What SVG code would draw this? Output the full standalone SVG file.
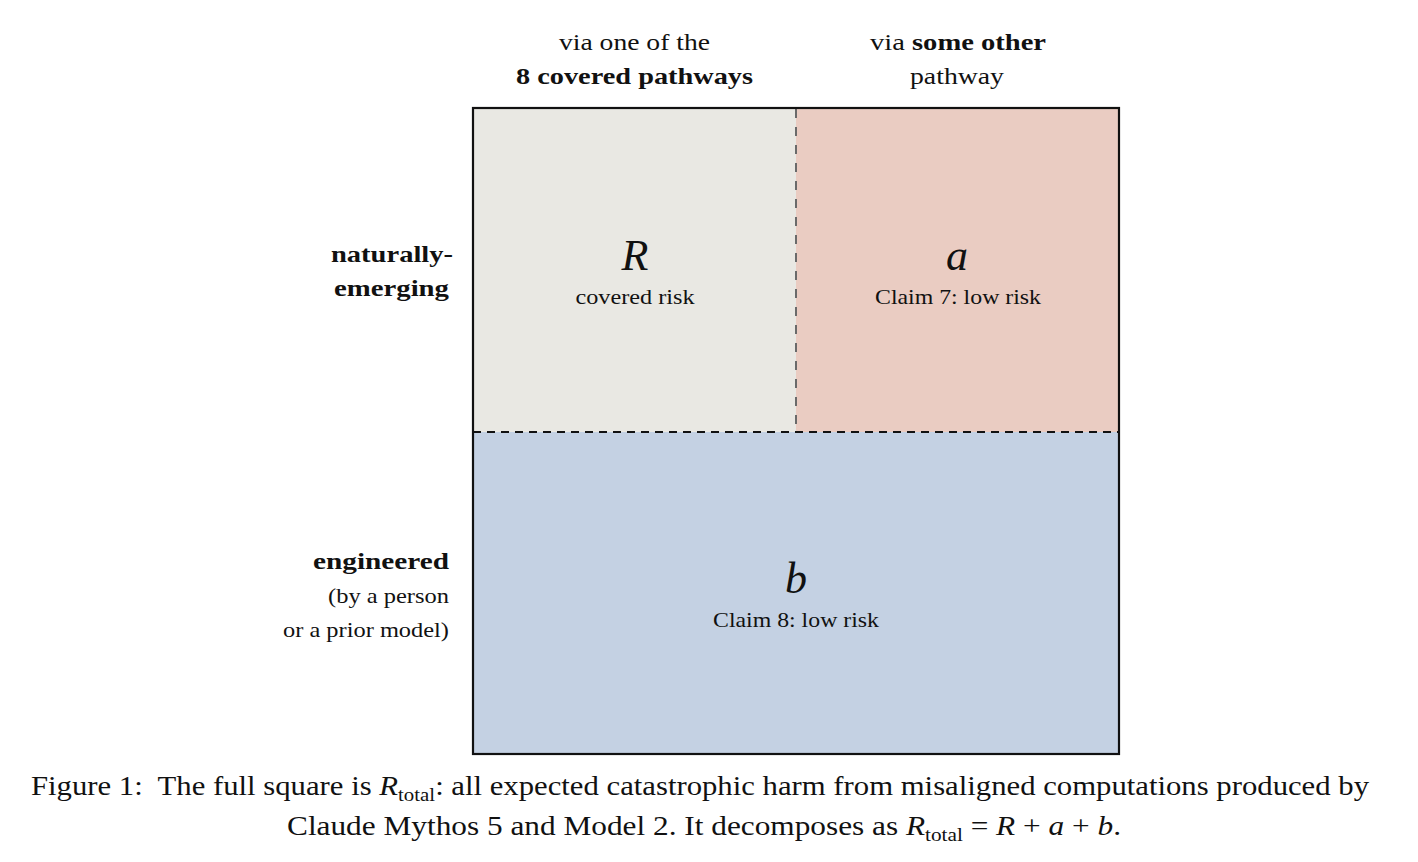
<svg xmlns="http://www.w3.org/2000/svg" width="1418" height="862" viewBox="0 0 1418 862">
<style>
text{font-family:"Liberation Serif","DejaVu Serif",serif;fill:#111}
.hd{font-size:24px;text-anchor:middle}
.lb{font-size:24px;text-anchor:end}
.sm{font-size:22px}
.b{font-weight:bold}
.m{font-size:44px;font-style:italic;text-anchor:middle}
.c{font-size:22px;text-anchor:middle}
.cap{font-size:28px;text-anchor:middle}
.i{font-style:italic}
.sub{font-size:19px}
</style>
<rect width="1418" height="862" fill="#fff"/>
<g id="cell-R"><rect x="473" y="108" width="323" height="324" fill="#e9e8e3"/>
<text class="m" x="635" y="270">R</text><text class="c" x="635" y="304" textLength="119" lengthAdjust="spacingAndGlyphs">covered risk</text></g>
<g id="cell-a"><rect x="796" y="108" width="323" height="324" fill="#eaccc2"/>
<text class="m" x="957" y="270">a</text><text class="c" x="958" y="304" textLength="166" lengthAdjust="spacingAndGlyphs">Claim 7: low risk</text></g>
<g id="cell-b"><rect x="473" y="432" width="646" height="322" fill="#c4d1e3"/>
<text class="m" x="796" y="593">b</text><text class="c" x="796" y="627" textLength="166" lengthAdjust="spacingAndGlyphs">Claim 8: low risk</text></g>
<g id="connectors">
<line x1="796" y1="109" x2="796" y2="431" stroke="#6a6a6a" stroke-width="2" stroke-dasharray="9 9"/>
<line x1="473" y1="432" x2="1119" y2="432" stroke="#111" stroke-width="2" stroke-dasharray="8 6"/>
</g>
<rect x="473" y="108" width="646" height="646" fill="none" stroke="#111" stroke-width="2.2"/>
<g id="headers">
<text class="hd" x="634.5" y="50" textLength="151" lengthAdjust="spacingAndGlyphs">via one of the</text>
<text class="hd b" x="634.5" y="84" textLength="237" lengthAdjust="spacingAndGlyphs">8 covered pathways</text>
<text class="hd" x="958" y="50" textLength="176" lengthAdjust="spacingAndGlyphs">via <tspan class="b">some other</tspan></text>
<text class="hd" x="957" y="84" textLength="94" lengthAdjust="spacingAndGlyphs">pathway</text>
</g>
<g id="row-labels">
<text class="lb b" x="453" y="262" textLength="122" lengthAdjust="spacingAndGlyphs">naturally-</text>
<text class="lb b" x="449" y="296" textLength="115" lengthAdjust="spacingAndGlyphs">emerging</text>
<text class="lb b" x="449" y="569" textLength="136" lengthAdjust="spacingAndGlyphs">engineered</text>
<text class="lb sm" x="449" y="603" textLength="121" lengthAdjust="spacingAndGlyphs">(by a person</text>
<text class="lb sm" x="449" y="637" textLength="166" lengthAdjust="spacingAndGlyphs">or a prior model)</text>
</g>
<g id="caption">
<text class="cap" x="700" y="795" textLength="1338" lengthAdjust="spacingAndGlyphs">Figure 1:&#160; The full square is <tspan class="i">R</tspan><tspan class="sub" dy="6">total</tspan><tspan dy="-6">: all expected catastrophic harm from misaligned computations produced by</tspan></text>
<text class="cap" x="704" y="835" textLength="834" lengthAdjust="spacingAndGlyphs">Claude Mythos 5 and Model 2. It decomposes as <tspan class="i">R</tspan><tspan class="sub" dy="6">total</tspan><tspan dy="-6"> = </tspan><tspan class="i">R</tspan> + <tspan class="i">a</tspan> + <tspan class="i">b</tspan>.</text>
</g>
</svg>
